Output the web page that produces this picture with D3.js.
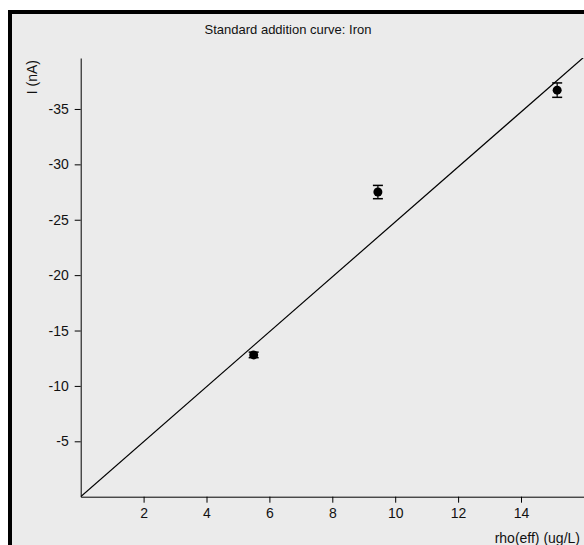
<!DOCTYPE html>
<html><head><meta charset="utf-8">
<script src="https://cdn.jsdelivr.net/npm/d3@7/dist/d3.min.js"></script>
<style>body{margin:0;background:#fff;}svg{display:block;font-family:"Liberation Sans",Arial,sans-serif;}</style>
</head><body><svg id="c" width="584" height="545"></svg>
<script>
const concentrations = [5.5, 9.45, 15.15];
const currents = [-12.8, -27.5, -36.7];
const errors = [0.25, 0.6, 0.65];
const fitSlope = -2.48;
const xTicks = [2, 4, 6, 8, 10, 12, 14];
const yTicks = [-5, -10, -15, -20, -25, -30, -35];
const title = "Standard addition curve: Iron";
const xLabel = "rho(eff) (ug/L)";
const yLabel = "I (nA)";

const FONT = "Liberation Sans, Arial, sans-serif";
const svg = d3.select("#c");
svg.append("rect").attr("x", 10).attr("y", 12).attr("width", 700).attr("height", 700)
  .attr("fill", "#ebebeb").attr("stroke", "#000").attr("stroke-width", 4);

const x = d3.scaleLinear().domain([0, 16]).range([80.7, 583.9]);
const y = d3.scaleLinear().domain([0, -39.6]).range([496.7, 58]);
const fmt = d => String(d);

svg.append("text").attr("x", 288).attr("y", 34).attr("text-anchor", "middle")
  .attr("font-size", 13).attr("font-family", FONT).attr("fill", "#111").text(title);

const xAxis = svg.append("g").attr("transform", `translate(0,${y(0)})`)
  .call(d3.axisBottom(x).tickValues(xTicks).tickSize(6).tickPadding(5).tickSizeOuter(0).tickFormat(fmt));
xAxis.select(".domain").attr("stroke", "#000");
xAxis.selectAll("text").attr("font-size", 14).attr("fill", "#111").attr("font-family", FONT);

const yAxis = svg.append("g").attr("transform", `translate(${x(0)},0)`)
  .call(d3.axisLeft(y).tickValues(yTicks).tickSize(6).tickPadding(6).tickSizeOuter(0).tickFormat(fmt));
yAxis.select(".domain").attr("stroke", "#000");
yAxis.selectAll("text").attr("font-size", 14).attr("fill", "#111").attr("font-family", FONT);

svg.append("text").attr("transform", `translate(37,60) rotate(-90)`).attr("text-anchor", "end")
  .attr("font-size", 14).attr("font-family", FONT).attr("fill", "#111").text(yLabel);
svg.append("text").attr("x", 580).attr("y", 543).attr("text-anchor", "end")
  .attr("font-size", 14).attr("font-family", FONT).attr("fill", "#111").text(xLabel);

svg.append("clipPath").attr("id", "clp").append("rect")
  .attr("x", x(0)).attr("y", y(-39.6)).attr("width", x(16) - x(0)).attr("height", y(0) - y(-39.6));
svg.append("line").attr("clip-path", "url(#clp)")
  .attr("x1", x(0)).attr("y1", y(0)).attr("x2", x(16)).attr("y2", y(fitSlope * 16))
  .attr("stroke", "#000").attr("stroke-width", 1.2);

const pts = concentrations.map((c, i) => ({c, v: currents[i], e: errors[i]}));
const g = svg.append("g");
pts.forEach(p => {
  const cx = x(p.c);
  g.append("line").attr("x1", cx).attr("x2", cx).attr("y1", y(p.v - p.e)).attr("y2", y(p.v + p.e)).attr("stroke", "#000").attr("stroke-width", 1.2);
  [p.v - p.e, p.v + p.e].forEach(v => g.append("line").attr("x1", cx - 5).attr("x2", cx + 5).attr("y1", y(v)).attr("y2", y(v)).attr("stroke", "#000").attr("stroke-width", 1.5));
  g.append("circle").attr("cx", cx).attr("cy", y(p.v)).attr("r", 4.5).attr("fill", "#000");
});
</script></body></html>
